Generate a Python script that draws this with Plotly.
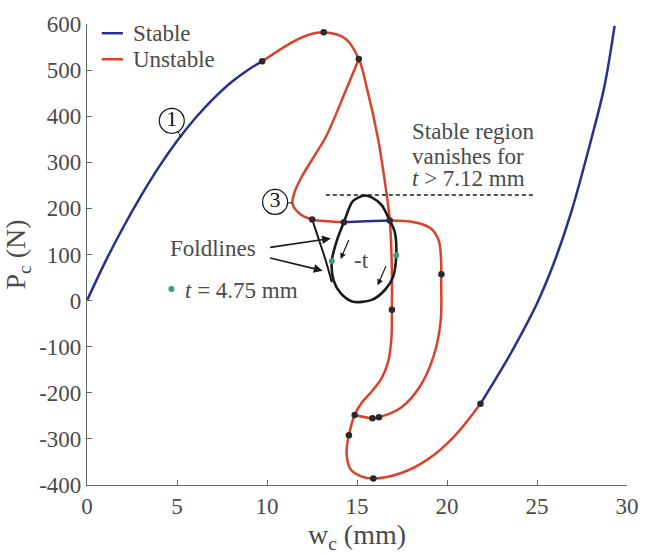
import plotly.graph_objects as go

# ---------------- data ----------------
# Stable branches
stable1_x = [0.0, 1.0, 2.0, 3.0, 4.0, 5.0, 6.0, 7.0, 8.0, 9.0, 9.73]
stable1_y = [0, 83, 158, 227, 290, 346, 395, 437, 473, 502, 519]
stable2_x = [21.86, 23.27, 24.18, 25.09, 26.0, 26.91, 28.0, 28.73, 29.31]
stable2_y = [-224, -133, -69, 1.5, 88, 193, 348, 462, 596]
stable3_x = [14.27, 15.5, 16.82]
stable3_y = [170, 172, 173.5]

# Unstable branches
unst1_x = [9.73, 11.25, 12.2, 13.15, 14.36, 15.1, 15.55, 16.15, 16.58, 16.82, 16.93, 16.94,
           16.91, 16.73, 16.37, 15.82, 15.27, 14.87, 14.55, 14.42, 14.64, 15.27, 15.91,
           17.46, 18.91, 20.37, 21.86]
unst1_y = [519, 557, 575, 582, 568, 524, 461, 355, 249, 175, 80, -20,
           -83, -133, -168, -197, -221, -248, -292, -331, -366, -382, -386,
           -374, -345, -296, -224]
unst2_x = [15.1, 14.36, 13.27, 12.73, 11.91, 11.54, 11.42, 11.8, 12.51, 13.4, 14.27]
unst2_y = [524, 454, 355, 320, 267, 236, 210, 189, 176, 172, 170]
unst3_x = [16.82, 18.18, 19.09, 19.55, 19.68, 19.64, 19.27, 18.55, 17.46, 16.22, 15.86, 14.87]
unst3_y = [173.5, 170, 157, 129, 23, -48, -119, -183, -232, -253, -255, -248]

# Foldline loop (closed) and foldline tail
loop_x = [15.45, 15.82, 16.37, 16.82, 17.09, 17.18, 17.0, 16.55, 15.82, 14.73, 14.09, 13.7,
          13.6, 13.93, 14.27, 14.73, 15.09, 15.45]
loop_y = [228, 224, 207, 173.5, 150, 98.5, 51, 23, 1.5, -2, 16, 44,
          86, 136, 170, 214, 224, 228]
fold_x = [12.51, 12.91, 13.27, 13.6]
fold_y = [176, 129, 86, 40]

# Marked points
dots_x = [9.73, 13.15, 15.1, 12.51, 14.27, 16.82, 19.69, 16.94, 14.87, 15.86, 16.22, 14.55, 15.91, 21.86]
dots_y = [519, 582, 524, 176, 170, 173.5, 57, -20, -248, -255, -253, -292, -386, -224]
green_x = [13.6, 17.18]
green_y = [86, 98.5]

# Threshold line
thr_x = [13.27, 24.91]
thr_y = [229, 229]

x_ticks = [0, 5, 10, 15, 20, 25, 30]
y_ticks = [-400, -300, -200, -100, 0, 100, 200, 300, 400, 500, 600]
y_tick_text = ["-400", "-300", "-200", "-100", "0", "100", "200", "300", "400", "500", "600"]

legend_names = ["Stable", "Unstable"]

BLUE = "#2b2f8c"
RED = "#d9432c"
GREEN = "#3f9b7d"
TXT = "#4a4a4a"
FONT = "Liberation Serif"
FS = 23

fig = go.Figure()

def line(x, y, color, width, dash=None, shape="spline", smooth=1.0):
    fig.add_trace(go.Scatter(x=x, y=y, mode="lines", showlegend=False,
                             line=dict(color=color, width=width, shape=shape,
                                       smoothing=smooth, dash=dash),
                             hoverinfo="skip"))

line(stable1_x, stable1_y, BLUE, 2.5)
line(stable2_x, stable2_y, BLUE, 2.5)
line(stable3_x, stable3_y, BLUE, 2.5)
line(unst1_x, unst1_y, RED, 2.5)
line(unst2_x, unst2_y, RED, 2.5)
line(unst3_x, unst3_y, RED, 2.5)
line(loop_x, loop_y, "#1a1a1a", 2.6, smooth=0.85)
line(fold_x, fold_y, "#1a1a1a", 2)
line(thr_x, thr_y, "#1a1a1a", 1.6, dash="4px,3px", shape="linear")

fig.add_trace(go.Scatter(x=dots_x, y=dots_y, mode="markers", showlegend=False,
                         marker=dict(color="#2a2a2a", size=6.5), hoverinfo="skip"))
fig.add_trace(go.Scatter(x=green_x + [4.69], y=green_y + [25], mode="markers", showlegend=False,
                         marker=dict(color=GREEN, size=6), hoverinfo="skip"))

# circled labels with leader lines
circ_x = [4.71, 10.45]
circ_y = [390, 214]
circ_t = ["1", "3"]
fig.add_trace(go.Scatter(x=[5.05, 5.22], y=[368, 353], mode="lines", showlegend=False,
                         line=dict(color="#1a1a1a", width=1), hoverinfo="skip"))
fig.add_trace(go.Scatter(x=[11.1, 11.42], y=[212, 212], mode="lines", showlegend=False,
                         line=dict(color="#1a1a1a", width=1), hoverinfo="skip"))
fig.add_trace(go.Scatter(x=circ_x, y=circ_y, mode="markers+text", text=circ_t,
                         textposition="middle center", showlegend=False,
                         textfont=dict(family=FONT, size=22, color="#111"),
                         marker=dict(symbol="circle", size=25, color="white",
                                     line=dict(color="#111", width=1.2)),
                         hoverinfo="skip"))

ann = []
def txt(x, y, s, anchor="center", size=FS, ref="x"):
    ann.append(dict(x=x, y=y, xref=ref, yref=ref.replace("x", "y"), text=s, showarrow=False,
                    xanchor=anchor, yanchor="middle",
                    font=dict(family=FONT, size=size, color=TXT)))

txt(7.0, 112, "Foldlines")
txt(5.36, 23, "<i>t</i> = 4.75 mm", "left")
txt(17.92, 366, "Stable region", "left")
txt(17.92, 312, "vanishes for", "left")
txt(17.92, 264, "<i>t</i> > 7.12 mm", "left")
txt(15.27, 86, "-t")

def arrow(x0, y0, x1, y1, w=1.6, size=1.0):
    ann.append(dict(x=x1, y=y1, ax=x0, ay=y0, xref="x", yref="y", axref="x", ayref="y",
                    showarrow=True, arrowhead=2, arrowsize=size, arrowwidth=w,
                    arrowcolor="#1a1a1a", text=""))

arrow(10.09, 115, 13.55, 134.8, 1.6, 1.1)
arrow(10.09, 93.4, 13.09, 65, 1.6, 1.1)
arrow(14.58, 134.6, 14.09, 90, 1.2, 1.0)
arrow(16.64, 78, 16.15, 33.3, 1.2, 1.0)

# manual legend (paper coordinates)
shapes = []
leg_y = [0.980, 0.9236]
leg_c = [BLUE, RED]
for name, yy, cc in zip(legend_names, leg_y, leg_c):
    shapes.append(dict(type="line", xref="paper", yref="paper", x0=0.0273, x1=0.0665,
                       y0=yy, y1=yy, line=dict(color=cc, width=2.5)))
    txt(0.0818, yy, name, "left", ref="paper")

fig.update_layout(
    width=651, height=554,
    margin=dict(l=87, r=14, t=19, b=64),
    paper_bgcolor="white", plot_bgcolor="white",
    font=dict(family=FONT, size=FS, color=TXT),
    annotations=ann, shapes=shapes,
    showlegend=False,
    xaxis=dict(range=[0, 30], tickvals=x_ticks, ticks="inside", ticklen=5,
               tickcolor="#666", showline=True, linecolor="#666", linewidth=1.2,
               showgrid=False, zeroline=False, mirror=False,
               title=dict(text="w<sub>c</sub> (mm)", standoff=4),
               tickfont=dict(family=FONT, size=FS, color=TXT)),
    yaxis=dict(range=[-400, 600], tickvals=y_ticks, ticktext=y_tick_text,
               ticks="inside", ticklen=5,
               tickcolor="#666", showline=True, linecolor="#666", linewidth=1.2,
               showgrid=False, zeroline=False, mirror=False,
               title=dict(text="P<sub>c</sub> (N)", standoff=6),
               tickfont=dict(family=FONT, size=FS, color=TXT)),
)

fig.write_html("out.html")
